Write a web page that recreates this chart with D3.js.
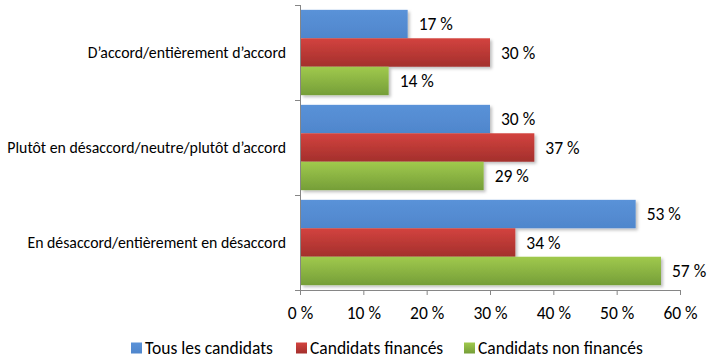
<!DOCTYPE html>
<html>
<head>
<meta charset="utf-8">
<script src="https://cdn.jsdelivr.net/npm/d3@7"></script>
<style>
  body { margin: 0; background: #fff; }
  text { font-family: Carlito, "Open Sans", "Liberation Sans", sans-serif; fill: #000; }
</style>
</head>
<body>
<div id="vis"></div>
<script>
// categories (top to bottom)
var categories = [
  "D\u2019accord/enti\u00e8rement d\u2019accord",
  "Plut\u00f4t en d\u00e9saccord/neutre/plut\u00f4t d\u2019accord",
  "En d\u00e9saccord/enti\u00e8rement en d\u00e9saccord"
];
var seriesNames = ["Tous les candidats", "Candidats financ\u00e9s", "Candidats non financ\u00e9s"];
var tousValues = [17, 30, 53];
var financesValues = [30, 37, 34];
var nonFinancesValues = [14, 29, 57];
var xTicks = [0, 10, 20, 30, 40, 50, 60];

var width = 709, height = 362;
var margin = { top: 5, left: 300, right: 29, bottom: 72 };

var svg = d3.select('#vis').append('svg')
  .attr('width', width)
  .attr('height', height);

var defs = svg.append('defs');
var gradients = [
  ['gBlue', '#5a92d8', '#4f86cc'],
  ['gRed', '#d3433f', '#a32f2c'],
  ['gGreen', '#a0c94d', '#759e38']
];
gradients.forEach(function (g) {
  var lg = defs.append('linearGradient').attr('id', g[0])
    .attr('x1', 0).attr('y1', 0).attr('x2', 0).attr('y2', 1);
  lg.append('stop').attr('offset', '0%').attr('stop-color', g[1]);
  lg.append('stop').attr('offset', '100%').attr('stop-color', g[2]);
});
var shadow = defs.append('filter').attr('id', 'shadow')
  .attr('x', '-5%').attr('y', '-20%').attr('width', '115%').attr('height', '160%');
shadow.append('feDropShadow').attr('dx', 2).attr('dy', 2).attr('stdDeviation', 1.5)
  .attr('flood-color', '#000').attr('flood-opacity', 0.25);

var fills = ['url(#gBlue)', 'url(#gRed)', 'url(#gGreen)'];

var x = d3.scaleLinear().domain([0, 60]).range([margin.left, width - margin.right]);
var y = d3.scaleBand().domain(categories).range([margin.top, height - margin.bottom]);
var inner = d3.scaleBand().domain([0, 1, 2]).range([0, y.bandwidth()]).paddingOuter(0.17);

var rows = categories.map(function (c, i) {
  return { cat: c, vals: [tousValues[i], financesValues[i], nonFinancesValues[i]] };
});

var groups = svg.selectAll('.cat')
  .data(rows)
  .enter().append('g')
  .attr('class', 'cat')
  .attr('transform', function (d) { return 'translate(0,' + y(d.cat) + ')'; });

groups.selectAll('rect')
  .data(function (d) { return d.vals.map(function (v, k) { return { v: v, k: k }; }); })
  .enter().append('rect')
  .attr('x', x(0) + 1)
  .attr('y', function (d) { return inner(d.k); })
  .attr('width', function (d) { return x(d.v) - x(0) - 1; })
  .attr('height', inner.bandwidth())
  .attr('fill', function (d) { return fills[d.k]; })
  .attr('filter', 'url(#shadow)');

groups.selectAll('.val')
  .data(function (d) { return d.vals.map(function (v, k) { return { v: v, k: k }; }); })
  .enter().append('text')
  .attr('class', 'val')
  .attr('x', function (d) { return x(d.v) + 11; })
  .attr('y', function (d) { return inner(d.k) + inner.bandwidth() / 2; })
  .attr('dy', '0.35em')
  .style('font-size', '17.5px')
  .text(function (d) { return d.v + ' %'; });

// x axis
var xAxis = d3.axisBottom(x).tickValues(xTicks).tickSize(5).tickFormat(function (d) { return d + ' %'; });
var gx = svg.append('g')
  .attr('transform', 'translate(0,' + (height - margin.bottom) + ')')
  .call(xAxis);
gx.select('.domain').attr('stroke', '#868686').attr('d', 'M' + x(0) + ',0.5H' + x(60));
gx.selectAll('.tick line').attr('stroke', '#868686');
gx.selectAll('.tick text').attr('y', 17).style('font-size', '17.5px').style('font-family', 'Carlito, "Open Sans", sans-serif');

// y axis
var yAxis = d3.axisLeft(y).tickSize(0).tickPadding(14);
var gy = svg.append('g')
  .attr('transform', 'translate(' + x(0) + ',0)')
  .call(yAxis);
gy.select('.domain').attr('stroke', '#868686').attr('d', 'M0.5,' + margin.top + 'V' + (height - margin.bottom));
gy.selectAll('.tick text').style('font-size', '15.8px').style('font-family', 'Carlito, "Open Sans", sans-serif');
// category boundary ticks
gy.selectAll('.bound')
  .data(d3.range(categories.length + 1))
  .enter().append('line')
  .attr('x1', -5).attr('x2', 0)
  .attr('y1', function (i) { return margin.top + i * y.step() + 0.5; })
  .attr('y2', function (i) { return margin.top + i * y.step() + 0.5; })
  .attr('stroke', '#868686');

// legend
var legendX = [131, 296, 464];
var legend = svg.selectAll('.legend')
  .data(seriesNames)
  .enter().append('g')
  .attr('class', 'legend')
  .attr('transform', function (d, i) { return 'translate(' + legendX[i] + ',342.5)'; });
legend.append('rect')
  .attr('width', 11).attr('height', 11)
  .attr('fill', function (d, i) { return fills[i]; });
legend.append('text')
  .attr('x', 14).attr('y', 5).attr('dy', '0.35em')
  .style('font-size', '17.5px')
  .text(function (d) { return d; });
</script>
</body>
</html>
